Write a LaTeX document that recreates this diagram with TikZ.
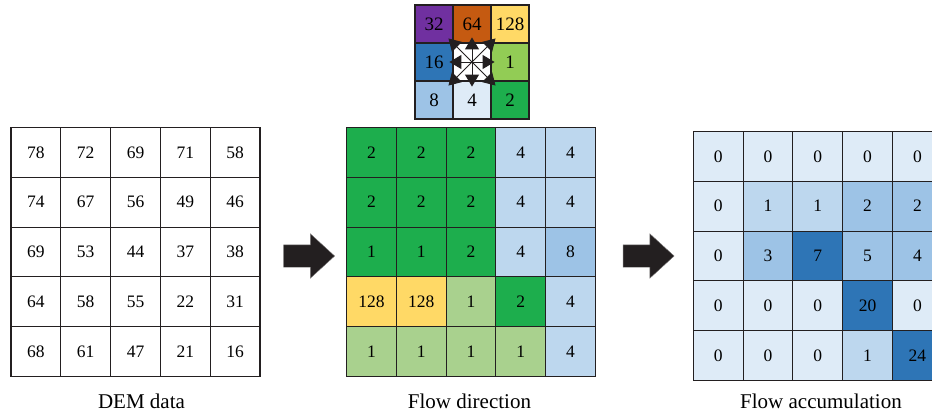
\documentclass[tikz,border=0pt]{standalone}
\usepackage{fontspec}
\setmainfont{Liberation Serif}
\usetikzlibrary{arrows.meta,shapes.arrows}

\definecolor{inkline}{HTML}{231F20}
\definecolor{dpurple}{HTML}{7030A0}
\definecolor{dorange}{HTML}{C55A11}
\definecolor{dyellow}{HTML}{FFD966}
\definecolor{dblue}{HTML}{2E75B6}
\definecolor{dlime}{HTML}{92CC55}
\definecolor{dgreen}{HTML}{1DAE4D}
\definecolor{lgreen}{HTML}{A9D18E}
\definecolor{bpale}{HTML}{DEEBF7}
\definecolor{bsky}{HTML}{BDD7EE}
\definecolor{bmid}{HTML}{9DC3E6}

\tikzset{
  cell/.style={draw=inkline,line width=1.1pt,minimum size=49.8pt,inner sep=0pt,
    font=\fontsize{17.5}{17.5}\selectfont},
  dircell/.style={cell,minimum size=38pt,font=\fontsize{19}{19}\selectfont},
  caption/.style={font=\fontsize{21}{21}\selectfont,inner sep=0pt},
  bigarrow/.style={single arrow,fill=inkline,draw=inkline!60,line width=0.4pt,
    minimum height=51pt,inner xsep=0pt,inner ysep=11pt,
    single arrow head extend=11pt,single arrow tip angle=85},
  comparrow/.style={inkline,line width=1pt,-{Triangle[length=12pt,width=14pt]}}
}

\begin{document}
\begin{tikzpicture}[x=1pt,y=-1pt]
  \clip (0,0) rectangle (932,415);

  % direction codes
  \foreach \row [count=\i] in {{32/dpurple,64/dorange,128/dyellow},
                               {16/dblue,/white,1/dlime},
                               {8/bmid,4/bpale,2/dgreen}}{
    \foreach \v/\c [count=\j] in \row
      \node[dircell,fill=\c] (comp-\i-\j) at ({415+38*(\j-0.5)},{5+38*(\i-0.5)}) {\v};
  }
  \foreach \a/\dx/\dy in {north/0/5,south/0/-5,east/3/0,west/-3/0,
                          north east/4/4,north west/-4/4,south east/4/-4,south west/-4/-4}
    \draw[comparrow] (comp-2-2.center) -- ([shift={(\dx pt,\dy pt)}]comp-2-2.\a);

  % DEM data
  \foreach \row [count=\i] in {{78,72,69,71,58},{74,67,56,49,46},{69,53,44,37,38},
                               {64,58,55,22,31},{68,61,47,21,16}}{
    \foreach \v [count=\j] in \row
      \node[cell,fill=white] (dem-\i-\j) at ({11+49.8*(\j-0.5)},{127.5+49.8*(\i-0.5)}) {\v};
  }

  % flow direction
  \foreach \row [count=\i] in {{2/dgreen,2/dgreen,2/dgreen,4/bsky,4/bsky},
                               {2/dgreen,2/dgreen,2/dgreen,4/bsky,4/bsky},
                               {1/dgreen,1/dgreen,2/dgreen,4/bsky,8/bmid},
                               {128/dyellow,128/dyellow,1/lgreen,2/dgreen,4/bsky},
                               {1/lgreen,1/lgreen,1/lgreen,1/lgreen,4/bsky}}{
    \foreach \v/\c [count=\j] in \row
      \node[cell,fill=\c] (dir-\i-\j) at ({346.5+49.8*(\j-0.5)},{127.5+49.8*(\i-0.5)}) {\v};
  }

  % flow accumulation
  \foreach \row [count=\i] in {{0/bpale,0/bpale,0/bpale,0/bpale,0/bpale},
                               {0/bpale,1/bsky,1/bsky,2/bmid,2/bmid},
                               {0/bpale,3/bmid,7/dblue,5/bmid,4/bmid},
                               {0/bpale,0/bpale,0/bpale,20/dblue,0/bpale},
                               {0/bpale,0/bpale,0/bpale,1/bsky,24/dblue}}{
    \foreach \v/\c [count=\j] in \row
      \node[cell,fill=\c] (acc-\i-\j) at ({693.3+49.8*(\j-0.5)},{131.5+49.8*(\i-0.5)}) {\v};
  }

  % arrows between grids
  \node[bigarrow] (goA) at (303,256) {};
  \node[bigarrow] (goB) at (642.5,256) {};

  % captions
  \node[caption] (demlabel) at (141.5,401) {DEM data};
  \node[caption] (dirlabel) at (469.5,401) {Flow direction};
  \node[caption] (acclabel) at (821,401) {Flow accumulation};
\end{tikzpicture}
\end{document}
